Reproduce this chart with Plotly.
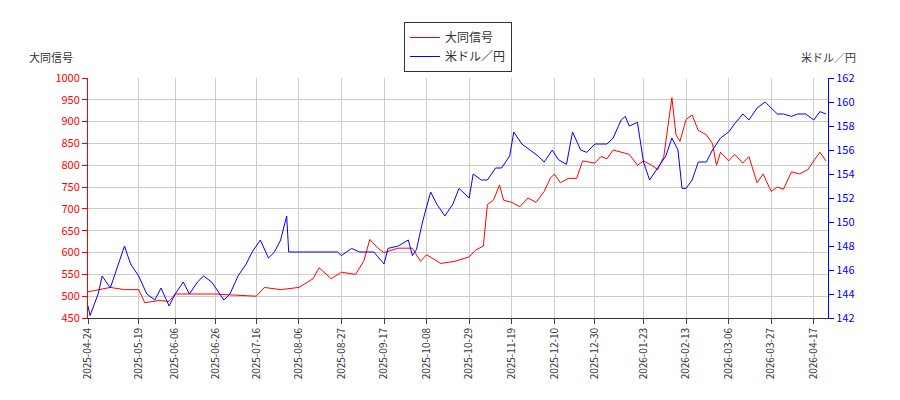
import plotly.graph_objects as go

red_dates = ["2025-04-24","2025-04-29","2025-05-05","2025-05-12","2025-05-19","2025-05-22","2025-05-29","2025-06-03","2025-06-06","2025-06-13","2025-06-20","2025-06-26","2025-07-03","2025-07-10","2025-07-16","2025-07-20","2025-07-28","2025-08-06","2025-08-13","2025-08-16","2025-08-22","2025-08-27","2025-09-03","2025-09-07","2025-09-10","2025-09-14","2025-09-17","2025-09-24","2025-10-01","2025-10-05","2025-10-08","2025-10-15","2025-10-22","2025-10-29","2025-11-01","2025-11-05","2025-11-07","2025-11-10","2025-11-13","2025-11-15","2025-11-19","2025-11-23","2025-11-27","2025-12-01","2025-12-05","2025-12-08","2025-12-10","2025-12-13","2025-12-17","2025-12-21","2025-12-24","2025-12-30","2026-01-02","2026-01-05","2026-01-08","2026-01-12","2026-01-16","2026-01-20","2026-01-23","2026-01-27","2026-01-30","2026-02-02","2026-02-04","2026-02-06","2026-02-08","2026-02-10","2026-02-13","2026-02-16","2026-02-19","2026-02-23","2026-02-26","2026-02-28","2026-03-02","2026-03-06","2026-03-09","2026-03-13","2026-03-16","2026-03-20","2026-03-23","2026-03-27","2026-03-30","2026-04-02","2026-04-06","2026-04-10","2026-04-14","2026-04-17","2026-04-20","2026-04-23"]
red_vals = [510,515,520,515,515,485,490,488,505,505,505,505,503,502,500,520,515,520,540,565,540,555,550,580,630,610,600,610,610,580,595,575,580,590,605,615,710,720,755,720,715,705,725,715,740,770,780,760,770,770,810,805,820,815,835,830,825,800,810,800,790,820,890,955,870,855,905,915,880,870,850,800,830,810,825,805,820,760,780,740,750,745,785,780,790,810,830,810]

blue_dates = ["2025-04-24","2025-04-25","2025-04-29","2025-05-01","2025-05-05","2025-05-08","2025-05-12","2025-05-15","2025-05-19","2025-05-23","2025-05-27","2025-05-30","2025-06-03","2025-06-06","2025-06-10","2025-06-13","2025-06-17","2025-06-20","2025-06-24","2025-06-26","2025-06-30","2025-07-03","2025-07-07","2025-07-11","2025-07-14","2025-07-16","2025-07-18","2025-07-22","2025-07-25","2025-07-28","2025-07-31","2025-08-01","2025-08-06","2025-08-11","2025-08-15","2025-08-20","2025-08-25","2025-08-27","2025-09-01","2025-09-05","2025-09-08","2025-09-12","2025-09-17","2025-09-19","2025-09-24","2025-09-29","2025-10-01","2025-10-03","2025-10-06","2025-10-10","2025-10-13","2025-10-17","2025-10-21","2025-10-24","2025-10-29","2025-10-31","2025-11-04","2025-11-07","2025-11-11","2025-11-14","2025-11-18","2025-11-20","2025-11-24","2025-11-28","2025-12-02","2025-12-05","2025-12-09","2025-12-12","2025-12-16","2025-12-19","2025-12-23","2025-12-26","2025-12-30","2026-01-05","2026-01-08","2026-01-12","2026-01-14","2026-01-16","2026-01-20","2026-01-23","2026-01-26","2026-01-30","2026-02-03","2026-02-06","2026-02-09","2026-02-11","2026-02-13","2026-02-16","2026-02-19","2026-02-23","2026-02-26","2026-03-02","2026-03-06","2026-03-09","2026-03-13","2026-03-16","2026-03-20","2026-03-24","2026-03-27","2026-03-30","2026-04-02","2026-04-06","2026-04-09","2026-04-13","2026-04-17","2026-04-20","2026-04-23"]
blue_vals = [143,142.2,144,145.5,144.5,146,148,146.5,145.5,144,143.5,144.5,143,144,145,144,145,145.5,145,144.5,143.5,144,145.5,146.5,147.5,148,148.5,147,147.5,148.5,150.5,147.5,147.5,147.5,147.5,147.5,147.5,147.2,147.8,147.5,147.5,147.5,146.5,147.8,148,148.5,147.2,147.7,150,152.5,151.5,150.5,151.5,152.8,152,154,153.5,153.5,154.5,154.5,155.5,157.5,156.5,156,155.5,155,156,155.2,154.8,157.5,156,155.8,156.5,156.5,157,158.5,158.8,158,158.3,155,153.5,154.5,155.5,157,156,152.8,152.8,153.5,155,155,156,157,157.5,158.2,159,158.5,159.5,160,159.5,159,159,158.8,159,159,158.5,159.2,159]

tick_dates = ["2025-04-24","2025-05-19","2025-06-06","2025-06-26","2025-07-16","2025-08-06","2025-08-27","2025-09-17","2025-10-08","2025-10-29","2025-11-19","2025-12-10","2025-12-30","2026-01-23","2026-02-13","2026-03-06","2026-03-27","2026-04-17"]

fig = go.Figure()
fig.add_trace(go.Scatter(x=red_dates, y=red_vals, name="大同信号", mode="lines", line=dict(color="red", width=1)))
fig.add_trace(go.Scatter(x=blue_dates, y=blue_vals, name="米ドル／円", mode="lines", line=dict(color="blue", width=1), yaxis="y2"))

grid = "#cccccc"
fig.update_layout(
    width=900, height=400, paper_bgcolor="white", plot_bgcolor="white",
    margin=dict(l=80, r=80, t=70, b=90, autoexpand=False),
    font=dict(family="Noto Sans CJK JP", size=11, color="#333"),
    showlegend=True,
    legend=dict(x=0.5, y=0.965, xref="container", yref="container", xanchor="center", yanchor="top",
                bordercolor="#333", borderwidth=1, font=dict(size=12)),
    xaxis=dict(range=["2025-04-24", "2026-04-24"], tickvals=tick_dates, ticktext=tick_dates, tickangle=-90,
               showgrid=True, gridcolor=grid, showline=True, linecolor="#333", ticks="outside", tickfont=dict(size=10),
               automargin=False),
    yaxis=dict(range=[450, 1000], dtick=50, showgrid=True, gridcolor=grid, showline=True, linecolor="red",
               tickfont=dict(color="red"), ticks="outside", tickcolor="red", automargin=False),
    yaxis2=dict(range=[142, 162], dtick=2, overlaying="y", side="right", showgrid=False, showline=True,
                linecolor="blue", tickfont=dict(color="blue"), ticks="outside", tickcolor="blue", automargin=False),
    annotations=[
        dict(text="大同信号", x=20, y=45, xref="paper", yref="paper", showarrow=False, xanchor="left", font=dict(size=11)),
        dict(text="米ドル／円", x=1.04, y=1.13, xref="paper", yref="paper", showarrow=False, xanchor="right", font=dict(size=11)),
    ],
)
fig.layout.annotations[0].update(x=-0.082, y=1.13)
fig.write_html("out.html")
